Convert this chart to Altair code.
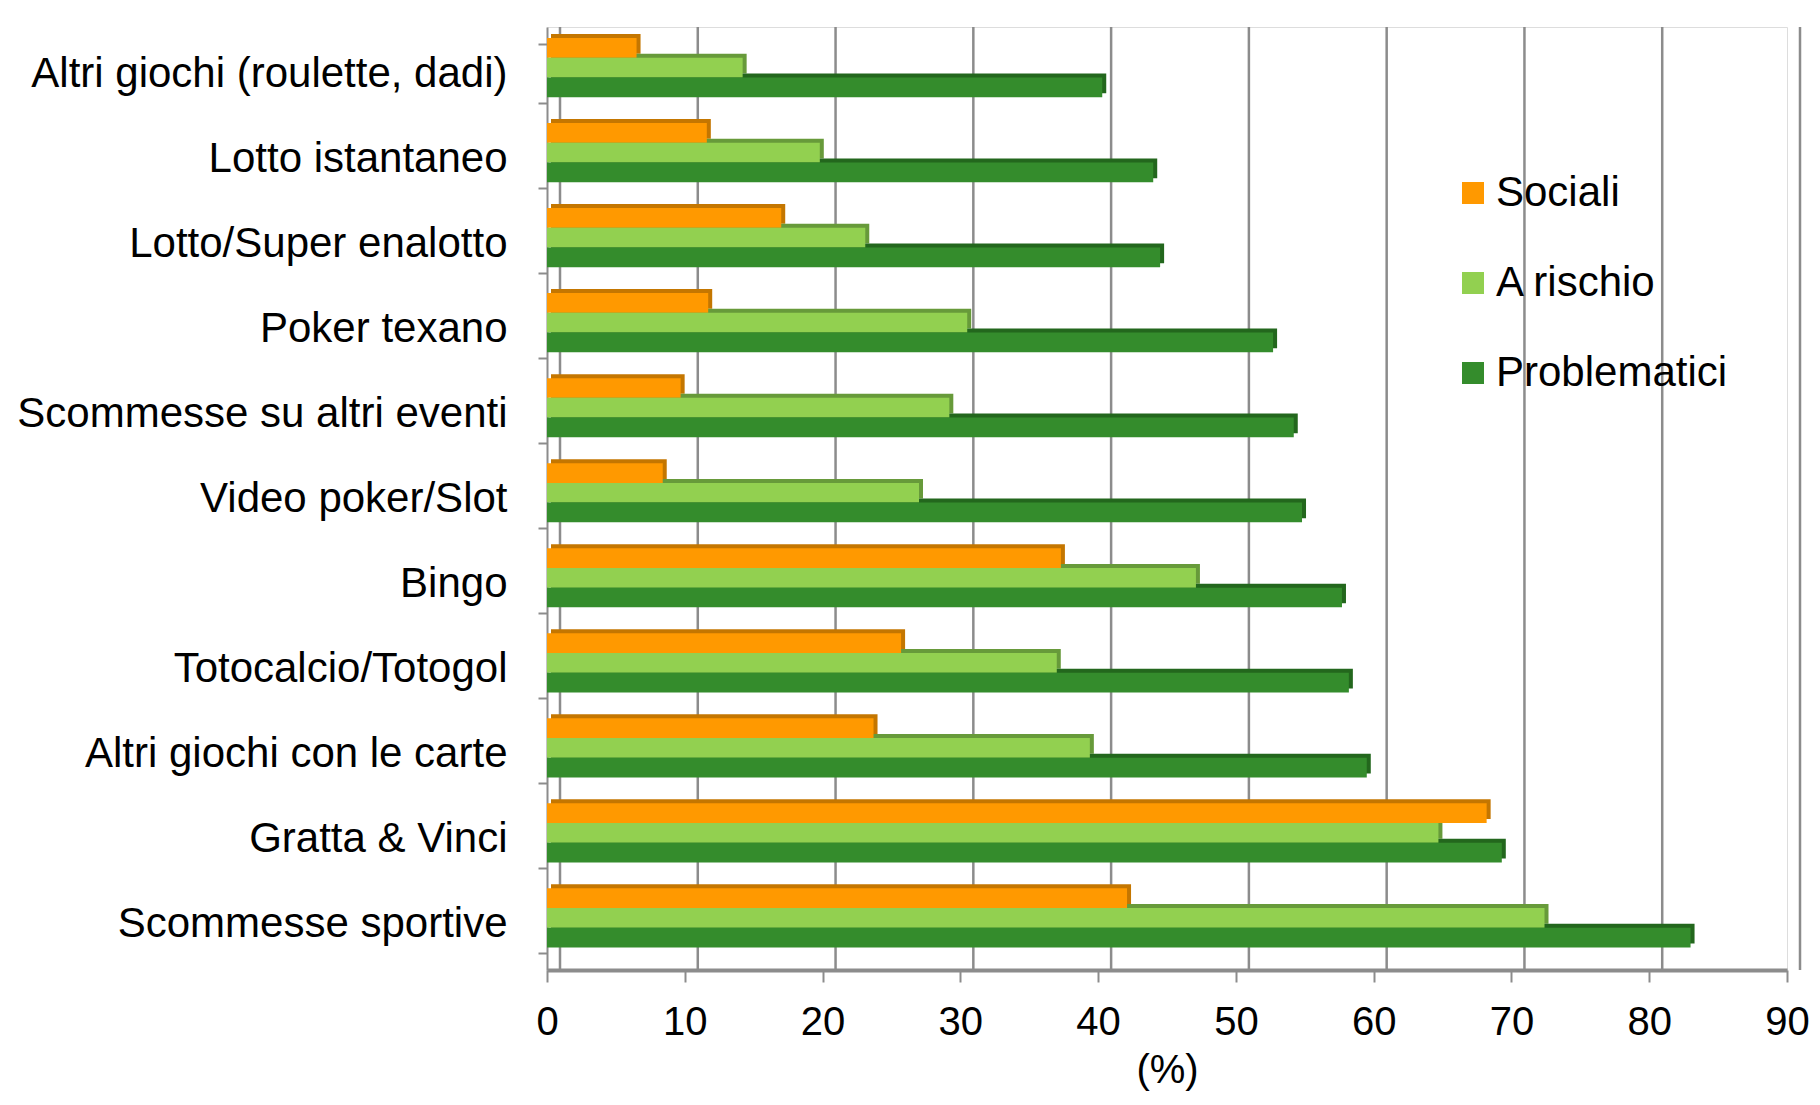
import altair as alt
import pandas as pd

categories = [
    "Altri giochi (roulette, dadi)",
    "Lotto istantaneo",
    "Lotto/Super enalotto",
    "Poker texano",
    "Scommesse su altri eventi",
    "Video poker/Slot",
    "Bingo",
    "Totocalcio/Totogol",
    "Altri giochi con le carte",
    "Gratta & Vinci",
    "Scommesse sportive",
]
series = ["Sociali", "A rischio", "Problematici"]
sociali = [6.5, 11.6, 17.0, 11.7, 9.7, 8.4, 37.3, 25.7, 23.7, 68.2, 42.1]
a_rischio = [14.2, 19.8, 23.1, 30.5, 29.2, 27.0, 47.1, 37.0, 39.4, 64.7, 72.4]
problematici = [40.3, 44.0, 44.5, 52.7, 54.2, 54.8, 57.7, 58.2, 59.5, 69.3, 83.0]
x_ticks = [0, 10, 20, 30, 40, 50, 60, 70, 80, 90]

colors = ["#FF9900", "#92D050", "#348C2C"]
side_colors = ["#C47600", "#679A3A", "#23671D"]

rows = []
for i, c in enumerate(categories):
    for s, vals in zip(series, [sociali, a_rischio, problematici]):
        rows.append({"gioco": c, "gruppo": s, "valore": vals[i]})
df = pd.DataFrame(rows)
grid_df = pd.DataFrame({"valore": x_ticks})

FONT = "Liberation Sans"
GRID = "#8C8C8C"
W, H = 1240, 943
PAD_INNER = 0.31
DEPTH = 4
SHIFT = -6
band_w = (1 - PAD_INNER) * H / len(categories)

y_enc = alt.Y(
    "gioco:N",
    sort=categories,
    scale=alt.Scale(paddingInner=PAD_INNER),
    axis=alt.Axis(
        title=None,
        labelFontSize=42,
        labelFont=FONT,
        labelColor="#000000",
        labelPadding=31,
        tickBand="extent",
        tickSize=9,
        tickColor=GRID,
        tickWidth=2,
        domainColor=GRID,
        domainWidth=2,
        grid=False,
        labelLimit=700,
    ),
)
x_scale = alt.Scale(domain=[0, 90], nice=False)
x_axis = alt.Axis(
    title="(%)",
    titleFontSize=40,
    titleFont=FONT,
    titleFontWeight="normal",
    titleColor="#000000",
    titlePadding=8,
    values=x_ticks,
    labelFontSize=40,
    labelFont=FONT,
    labelColor="#000000",
    labelPadding=20,
    tickSize=12,
    tickColor=GRID,
    tickWidth=2,
    domainColor=GRID,
    domainWidth=4,
    grid=False,
    labelFlush=False,
)

grid = alt.Chart(grid_df).mark_rule(color=GRID, strokeWidth=2.5, xOffset=13).encode(
    x=alt.X("valore:Q", scale=x_scale, axis=x_axis)
)

shadow = alt.Chart(df).mark_bar(xOffset=DEPTH).encode(
    y=y_enc,
    yOffset=alt.YOffset(
        "gruppo:N",
        sort=series,
        scale=alt.Scale(domain=series, range=[SHIFT - DEPTH, band_w + SHIFT - DEPTH]),
    ),
    x=alt.X("valore:Q", scale=x_scale, axis=x_axis),
    color=alt.Color(
        "gruppo:N",
        scale=alt.Scale(domain=series, range=side_colors),
        legend=None,
    ),
)

front = alt.Chart(df).mark_bar().encode(
    y=y_enc,
    yOffset=alt.YOffset(
        "gruppo:N",
        sort=series,
        scale=alt.Scale(domain=series, range=[SHIFT, band_w + SHIFT]),
    ),
    x=alt.X("valore:Q", scale=x_scale, axis=x_axis),
    fill=alt.Fill(
        "gruppo:N",
        scale=alt.Scale(domain=series, range=colors),
        legend=alt.Legend(
            title=None,
            orient="none",
            legendX=905,
            legendY=145,
            symbolType="square",
            symbolSize=484,
            symbolStrokeWidth=0,
            labelFontSize=42,
            labelFont=FONT,
            labelColor="#000000",
            labelOffset=2,
            labelLimit=500,
            rowPadding=48,
        ),
    ),
)

chart = (
    alt.layer(grid, shadow, front)
    .resolve_scale(color="independent", yOffset="independent")
    .properties(
        width=W,
        height=H,
        autosize=alt.AutoSizeParams(type="none"),
        padding={"left": 539, "top": 19, "right": 25, "bottom": 126},
    )
    .configure_view(stroke=None)
    .configure(background="white")
)

chart.save("out.html", embed_options={"renderer": "svg", "actions": False})
